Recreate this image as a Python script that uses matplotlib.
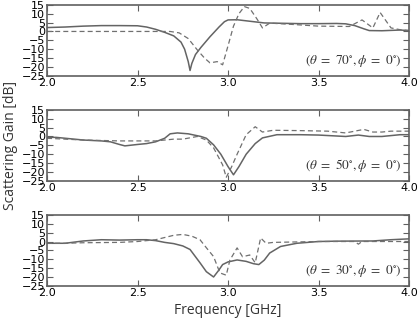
# Scattering gain vs frequency, three incidence angles
import matplotlib
matplotlib.use("Agg")
import matplotlib.pyplot as plt

# ------------------------------------
# Data
# ------------------------------------

# theta = 70 deg
f70_solid = [2.00, 2.10, 2.20, 2.30, 2.40, 2.50, 2.55, 2.60, 2.65, 2.70, 2.74, 2.76,
             2.78, 2.79, 2.80, 2.82, 2.85, 2.90, 2.95, 2.98, 3.00, 3.05, 3.10, 3.20,
             3.30, 3.40, 3.50, 3.60, 3.65, 3.70, 3.75, 3.78, 3.85, 3.95, 4.00]
g70_solid = [2.2, 2.5, 3.0, 3.3, 3.3, 3.2, 2.5, 1.2, -0.5, -2.5, -6.0, -10.0,
             -17.0, -22.0, -18.0, -13.0, -9.0, -3.0, 2.5, 5.5, 6.5, 6.6, 6.0, 4.8,
             4.6, 4.4, 4.4, 4.5, 4.3, 3.3, 1.5, 0.5, 0.4, 0.8, 0.5]
f70_dash = [2.00, 2.30, 2.60, 2.68, 2.73, 2.78, 2.83, 2.87, 2.90, 2.94, 2.97, 3.00,
            3.03, 3.06, 3.09, 3.12, 3.16, 3.19, 3.23, 3.35, 3.50, 3.67, 3.74, 3.80,
            3.84, 3.90, 3.95, 4.00]
g70_dash = [0.0, 0.0, 0.0, 0.0, -0.8, -4.0, -10.4, -15.0, -17.7, -17.0, -18.8, -8.0,
            3.0, 10.0, 14.0, 13.0, 7.0, 2.0, 4.7, 4.0, 3.0, 2.8, 6.5, 2.0,
            10.7, 2.0, 1.0, 0.5]

# theta = 50 deg
f50_solid = [2.00, 2.05, 2.10, 2.20, 2.30, 2.35, 2.40, 2.43, 2.50, 2.55, 2.60, 2.65,
             2.68, 2.72, 2.78, 2.85, 2.88, 2.92, 2.96, 3.00, 3.03, 3.06, 3.10, 3.15,
             3.19, 3.27, 3.40, 3.50, 3.65, 3.72, 3.78, 3.85, 3.95, 4.00]
g50_solid = [-0.5, -0.5, -1.0, -2.0, -2.5, -3.0, -4.5, -5.3, -4.5, -4.0, -3.0, -1.0,
             1.5, 2.0, 1.5, 0.0, -1.0, -4.7, -10.0, -17.0, -21.6, -17.0, -10.0, -4.0,
             -0.8, 1.0, 1.0, 0.8, 0.0, 0.8, 0.0, 0.0, 1.0, 1.0]
f50_dash = [2.00, 2.10, 2.20, 2.40, 2.60, 2.70, 2.75, 2.83, 2.88, 2.92, 2.97, 2.99,
            3.02, 3.05, 3.10, 3.15, 3.19, 3.25, 3.40, 3.55, 3.65, 3.70, 3.75, 3.80,
            3.85, 3.90, 4.00]
g50_dash = [-1.0, -1.5, -2.0, -2.5, -2.5, -1.5, -1.5, 0.0, -2.0, -6.4, -16.0, -23.0,
            -17.0, -10.0, 1.0, 5.5, 2.5, 3.5, 3.3, 3.0, 2.0, 3.0, 4.0, 2.5,
            2.5, 3.0, 3.0]

# theta = 30 deg
f30_solid = [2.00, 2.10, 2.20, 2.30, 2.40, 2.50, 2.55, 2.60, 2.65, 2.70, 2.75, 2.79,
             2.845, 2.88, 2.92, 2.95, 2.97, 3.00, 3.05, 3.10, 3.14, 3.17, 3.20, 3.23,
             3.29, 3.38, 3.50, 3.60, 3.80, 3.90, 4.00]
g30_solid = [-1.0, -1.0, 0.3, 1.0, 0.8, 1.0, 1.0, 0.5, -0.5, -1.2, -2.5, -4.5,
             -12.0, -17.0, -20.0, -16.0, -13.0, -11.5, -10.4, -11.2, -12.5, -13.0, -10.5, -6.5,
             -2.8, -1.0, 0.0, 0.2, 0.3, 1.0, 1.5]
f30_dash = [2.00, 2.10, 2.20, 2.40, 2.50, 2.60, 2.70, 2.75, 2.80, 2.845, 2.88, 2.92,
            2.955, 2.99, 3.01, 3.05, 3.08, 3.12, 3.15, 3.18, 3.21, 3.25, 3.50, 3.70,
            3.72, 3.74, 4.00]
g30_dash = [-1.0, -1.0, -0.7, -0.5, 0.0, 1.0, 3.5, 4.0, 3.0, 1.0, -3.5, -8.5,
            -17.7, -19.0, -10.5, -3.6, -8.6, -7.6, -12.0, 2.0, -1.0, -0.5, 0.0, 0.0,
            -1.5, 0.0, 0.0]

panels = [
    (f70_solid, g70_solid, f70_dash, g70_dash, r"$(\theta\ =\ 70^{\circ}, \phi\ =\ 0^{\circ})$"),
    (f50_solid, g50_solid, f50_dash, g50_dash, r"$(\theta\ =\ 50^{\circ}, \phi\ =\ 0^{\circ})$"),
    (f30_solid, g30_solid, f30_dash, g30_dash, r"$(\theta\ =\ 30^{\circ}, \phi\ =\ 0^{\circ})$"),
]

xticks = [2.0, 2.5, 3.0, 3.5, 4.0]
yticks = [-25, -20, -15, -10, -5, 0, 5, 10, 15]

# ------------------------------------
# Figure
# ------------------------------------

plt.rcParams["mathtext.fontset"] = "stix"

fig, axes = plt.subplots(3, 1, figsize=(4.2, 3.23), dpi=100)
plt.subplots_adjust(left=0.112, right=0.974, top=0.985, bottom=0.115, hspace=0.48)

edge = "#606060"

for ax, (fs, gs, fd, gd, label) in zip(axes, panels):
    ax.plot(fs, gs, color="#646464", linewidth=1.1)
    ax.plot(fd, gd, color="#707070", linewidth=0.9, linestyle="--", dashes=(4, 2.5))

    ax.set_xlim(2.0, 4.0)
    ax.set_ylim(-25, 15)
    ax.set_xticks(xticks)
    ax.set_xticklabels(["%.1f" % t for t in xticks])
    ax.set_yticks(yticks)
    ax.tick_params(direction="in", length=4, top=True, right=True,
                   labelsize=8, pad=1.5, color=edge, width=0.8)
    for s in ax.spines.values():
        s.set_color(edge)
        s.set_linewidth(1.2)

    ax.text(0.98, 0.21, label, transform=ax.transAxes, ha="right", va="center",
            fontsize=9.5, color="#333333")

fig.text(0.025, 0.55, "Scattering Gain [dB]", rotation=90, ha="center", va="center",
         fontsize=10, family="Open Sans", color="#333333")
fig.text(0.543, 0.04, "Frequency [GHz]", ha="center", va="center",
         fontsize=10, family="Open Sans", color="#333333")

plt.savefig("out.png", dpi=100)
plt.close()
